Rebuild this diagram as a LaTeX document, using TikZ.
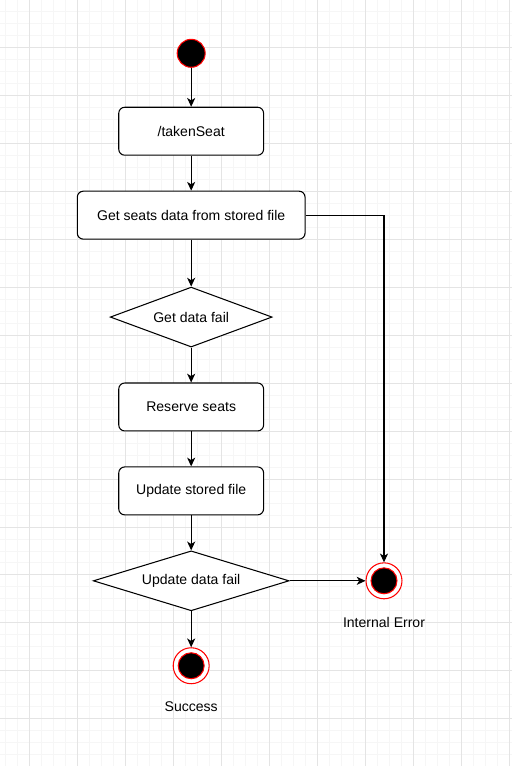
\documentclass[tikz,border=0pt]{standalone}
\usepackage{fontspec}
\setmainfont{Liberation Sans}
\usetikzlibrary{shapes.geometric,arrows.meta,positioning}
\definecolor{gridMinor}{RGB}{246,246,246}
\definecolor{gridMajor}{RGB}{228,228,228}
\definecolor{endRed}{RGB}{255,0,0}

\begin{document}
\begin{tikzpicture}[x=0.02cm,y=-0.02cm,
    font=\fontsize{8pt}{9.6pt}\selectfont,
    action/.style={draw,rounded corners=3.4pt,line width=0.6pt,fill=white,
      minimum width=2.9cm,minimum height=0.96cm,inner sep=0pt},
    decision/.style={draw,diamond,aspect=3,line width=0.6pt,fill=white,inner sep=0pt},
    initial/.style={circle,draw=endRed,fill=black,line width=0.6pt,minimum size=0.56cm,inner sep=0pt},
    final/.style={circle,draw=endRed,fill=white,line width=0.6pt,minimum size=0.72cm,inner sep=0pt,
      path picture={\draw[endRed,fill=black,line width=0.6pt] (path picture bounding box.center) circle (0.26cm);}},
    flow/.style={-{Stealth[length=5pt,width=4.6pt,inset=1.4pt]},line width=0.6pt}]
  % background grid
  \fill[white] (0,0) rectangle (512,766);
  \foreach \gx in {5,17,...,509} \draw[gridMinor,line width=0.4pt] (\gx,0) -- (\gx,766);
  \foreach \gy in {11,23,...,766} \draw[gridMinor,line width=0.4pt] (0,\gy) -- (512,\gy);
  \foreach \gx in {29,77,...,509} \draw[gridMajor,line width=0.4pt] (\gx,0) -- (\gx,766);
  \foreach \gy in {47,95,...,766} \draw[gridMajor,line width=0.4pt] (0,\gy) -- (512,\gy);
  \useasboundingbox (0,0) rectangle (512,766);

  % nodes
  \node[initial] (start) at (191,53) {};
  \node[action] (taken) at (191,131) {/takenSeat};
  \node[action,minimum width=4.56cm] (getdata) at (191,215) {Get seats data from stored file};
  \node[decision,minimum width=3.24cm,minimum height=1.2cm] (getfail) at (191,317) {Get data fail};
  \node[action] (reserve) at (191,407) {Reserve seats};
  \node[action] (update) at (191,491) {Update stored file};
  \node[decision,minimum width=3.92cm,minimum height=1.2cm] (updfail) at (191,581) {Update data fail};
  \node[final] (success) at (191,666) {};
  \node[final] (interr) at (384,581) {};
  \node (successlbl) at (191,707) {Success};
  \node (interrlbl) at (384,623) {Internal Error};

  % connectors
  \draw[flow] (start) -- (taken);
  \draw[flow] (taken) -- (getdata);
  \draw[flow] (getdata) -- (getfail);
  \draw[flow] (getfail) -- (reserve);
  \draw[flow] (reserve) -- (update);
  \draw[flow] (update) -- (updfail);
  \draw[flow] (updfail) -- (success);
  \draw[flow] (updfail) -- (interr);
  \draw[flow] (getdata.east) -| (interr);
\end{tikzpicture}
\end{document}
